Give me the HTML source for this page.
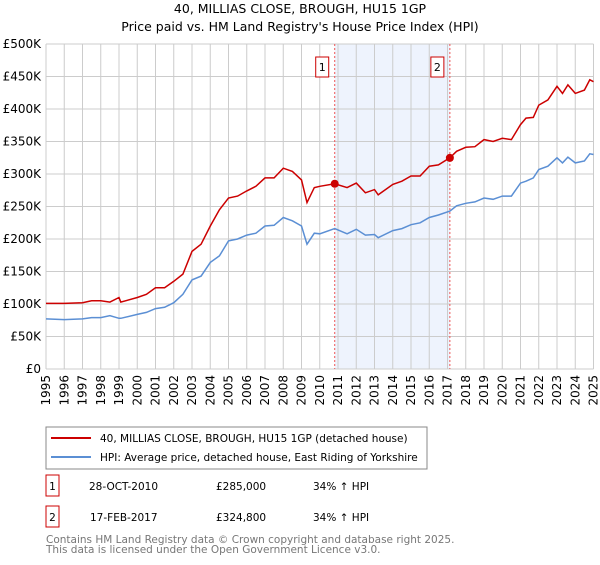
<!DOCTYPE html>
<html><head><meta charset="utf-8"><style>
body{margin:0;background:#fff;font-family:"Liberation Sans","DejaVu Sans",sans-serif;}
svg text{font-family:"DejaVu Sans","Liberation Sans",sans-serif;}
</style></head><body>
<svg id="c" width="600" height="560" xmlns="http://www.w3.org/2000/svg">
<text x="300" y="13" font-size="12.5" text-anchor="middle">40, MILLIAS CLOSE, BROUGH, HU15 1GP</text>
<text x="300" y="31" font-size="12.5" text-anchor="middle">Price paid vs. HM Land Registry's House Price Index (HPI)</text>
<g id="plot"></g>
<rect x="46" y="427" width="381" height="42" fill="#fff" stroke="#888"/>
<line x1="51" y1="438" x2="91" y2="438" stroke="#cc0000" stroke-width="2"/>
<text x="100" y="442" font-size="10.5">40, MILLIAS CLOSE, BROUGH, HU15 1GP (detached house)</text>
<line x1="51" y1="457" x2="91" y2="457" stroke="#5b8fd4" stroke-width="2"/>
<text x="100" y="461" font-size="10.5">HPI: Average price, detached house, East Riding of Yorkshire</text>
<rect x="46" y="475" width="13" height="21" fill="#fff" stroke="#cc0000"/>
<text x="52.5" y="490" font-size="10.5" text-anchor="middle">1</text>
<text x="89" y="490" font-size="10.5">28-OCT-2010</text>
<text x="216" y="490" font-size="10.5">£285,000</text>
<text x="313" y="490" font-size="10.5">34% ↑ HPI</text>
<rect x="46" y="506" width="13" height="21" fill="#fff" stroke="#cc0000"/>
<text x="52.5" y="521" font-size="10.5" text-anchor="middle">2</text>
<text x="90" y="521" font-size="10.5">17-FEB-2017</text>
<text x="216" y="521" font-size="10.5">£324,800</text>
<text x="313" y="521" font-size="10.5">34% ↑ HPI</text>
<text x="46" y="543" font-size="10.5" fill="#777">Contains HM Land Registry data © Crown copyright and database right 2025.</text>
<text x="46" y="553" font-size="10.5" fill="#777">This data is licensed under the Open Government Licence v3.0.</text>
</svg>
<script>
const redYears=[1995,1996,1997,1997.5,1998,1998.5,1999,1999.1,2000,2000.5,2001,2001.5,2002,2002.5,2003,2003.5,2004,2004.5,2005,2005.5,2006,2006.5,2007,2007.5,2008,2008.5,2009,2009.3,2009.7,2010,2010.82,2011.5,2012,2012.5,2013,2013.2,2014,2014.5,2015,2015.5,2016,2016.5,2017.13,2017.5,2018,2018.5,2019,2019.5,2020,2020.5,2021,2021.3,2021.7,2022,2022.5,2023,2023.3,2023.6,2024,2024.5,2024.8,2025];
const redValues=[101,101,102,105,105,103,110,103,110,115,125,125,135,146,181,192,220,245,263,266,274,281,294,294,309,304,291,256,279,281,285,279,286,271,276,268,284,289,297,297,312,314,325,335,341,342,353,350,355,353,376,386,387,406,414,435,424,437,424,429,445,442];
const hpiYears=redYears;
const hpiValues=[77,76,77,79,79,82,78,78,84,87,93,95,102,115,137,143,164,174,197,200,206,209,220,221,233,228,220,192,209,208,216,208,215,206,207,202,213,216,222,225,233,237,243,251,255,257,263,261,266,266,286,289,294,307,312,325,317,326,317,320,331,330];
const saleYears=[2010.82,2017.13];
const saleValues=[285,324.8];
const yTicks=[0,50,100,150,200,250,300,350,400,450,500];
const yTickLabels=["£0","£50K","£100K","£150K","£200K","£250K","£300K","£350K","£400K","£450K","£500K"];
const xTicks=[1995,1996,1997,1998,1999,2000,2001,2002,2003,2004,2005,2006,2007,2008,2009,2010,2011,2012,2013,2014,2015,2016,2017,2018,2019,2020,2021,2022,2023,2024,2025];

const X0=46,X1=593.5,Y0=369,Y1=44;
const xs=y=>X0+(y-1995)/30*(X1-X0);
const ys=v=>Y0-v/500*(Y0-Y1);
const NS="http://www.w3.org/2000/svg";
const g=document.getElementById('plot');
function mk(t,a){const e=document.createElementNS(NS,t);for(const k in a)e.setAttribute(k,a[k]);g.appendChild(e);return e;}
let e=mk('rect',{x:xs(saleYears[0]),y:Y1,width:xs(saleYears[1])-xs(saleYears[0]),height:Y0-Y1,fill:'#eef3fd'});


yTicks.forEach((v,i)=>{
 let l=mk('line',{x1:X0,x2:X1,y1:ys(v),y2:ys(v),stroke:'#ccc'});
 
 
 let t=mk('text',{x:X0-5,y:ys(v)+4,'font-size':12,'text-anchor':'end'});t.textContent=yTickLabels[i];
 
 
});
xTicks.forEach(y=>{
 let l=mk('line',{x1:xs(y),x2:xs(y),y1:Y1,y2:Y0,stroke:'#ccc'});
 
 
 let t=mk('text',{x:0,y:0,'font-size':12,'text-anchor':'end',transform:`translate(${xs(y)+4},${Y0+6}) rotate(-90)`});t.textContent=y;
 
 
});
saleYears.forEach((y,i)=>{
 let l=mk('line',{x1:xs(y),x2:xs(y),y1:Y1,y2:Y0,stroke:'#e55','stroke-dasharray':'2,2'});
 
 
});
const pts=(xa,va)=>xa.map((y,i)=>xs(y).toFixed(1)+','+ys(va[i]).toFixed(1)).join(' ');
e=mk('polyline',{points:pts(hpiYears,hpiValues),fill:'none',stroke:'#5b8fd4','stroke-width':1.5});


e=mk('polyline',{points:pts(redYears,redValues),fill:'none',stroke:'#cc0000','stroke-width':1.5});


saleYears.forEach((y,i)=>{
 let c=mk('circle',{cx:xs(y),cy:ys(saleValues[i]),r:4,fill:'#cc0000'});
 
 
 let r=mk('rect',{x:xs(y)-19,y:57,width:13,height:20,fill:'#fff',stroke:'#cc0000'});
 
 
 let t=mk('text',{x:xs(y)-12.5,y:71,'font-size':11,'text-anchor':'middle'});t.textContent=i+1;
 
 
});
</script>
</body></html>
